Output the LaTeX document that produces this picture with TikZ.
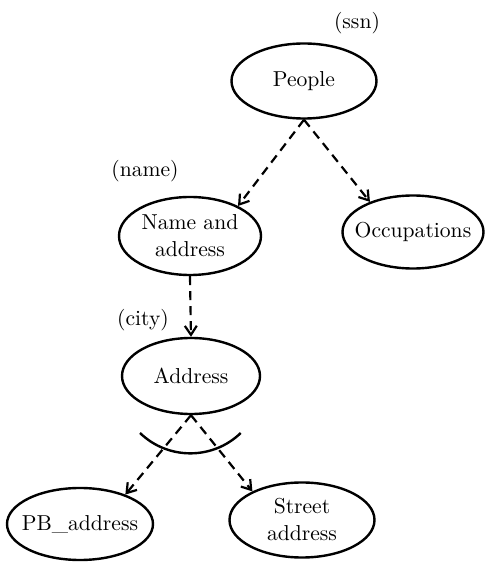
\documentclass[tikz,border=0pt]{standalone}
\usetikzlibrary{arrows.meta,shapes.geometric}
\begin{document}
\begin{tikzpicture}[x=0.5pt,y=0.5pt,
    entity/.style={ellipse,draw,line width=1.2pt,inner sep=0pt},
    etext/.style={align=center,inner sep=0pt,font=\fontsize{10.8}{13.5}\selectfont},
    keyname/.style={font=\fontsize{10.8}{13.5}\selectfont},
    isa/.style={line width=1.1pt,dash pattern=on 4.5pt off 3pt,
        -{Straight Barb[length=4.5pt,width=6pt]}}]
    \useasboundingbox (0,0) rectangle (486,563);

    % Draw the entities
    \node[entity,minimum width=72.5pt,minimum height=37.5pt] (people) at (304,482) {};
    \node[entity,minimum width=71pt,minimum height=39pt] (name) at (190,327) {};
    \node[entity,minimum width=70.5pt,minimum height=36.5pt] (occ) at (413,331) {};
    \node[entity,minimum width=69pt,minimum height=38pt] (address) at (191,187) {};
    \node[entity,minimum width=73pt,minimum height=36pt] (pbaddr) at (80,39) {};
    \node[entity,minimum width=72.5pt,minimum height=37.5pt] (street) at (302,43) {};

    % Names inside the entities
    \node[etext] (peopletext) at (people) {People};
    \node[etext] (nametext) at (name) {Name and\\address};
    \node[etext] (occtext) at (occ) {Occupations};
    \node[etext] (addresstext) at (address) {Address};
    \node[etext] (pbtext) at (pbaddr) {PB\_address};
    \node[etext] (streettext) at (street) {Street\\address};

    % Keys above the entities
    \node[keyname] (ssnkey) at (357,540) {(ssn)};
    \node[keyname] (namekey) at (145,392) {(name)};
    \node[keyname] (citykey) at (143,243) {(city)};

    % Dashed arrows
    \draw[isa] (people.south) -- (name.32);
    \draw[isa] (people.south) -- (occ.145);
    \draw[isa] (name.south) -- (address.north);
    \draw[isa] (address.south) -- (pbaddr.33);
    \draw[isa] (address.south) -- (street.150);

    % Arc across the two lower arrows
    \coordinate (arcstart) at (140,130);
    \draw[line width=1.2pt] (arcstart) arc[start angle=226,end angle=314,radius=36.25pt];
\end{tikzpicture}
\end{document}
